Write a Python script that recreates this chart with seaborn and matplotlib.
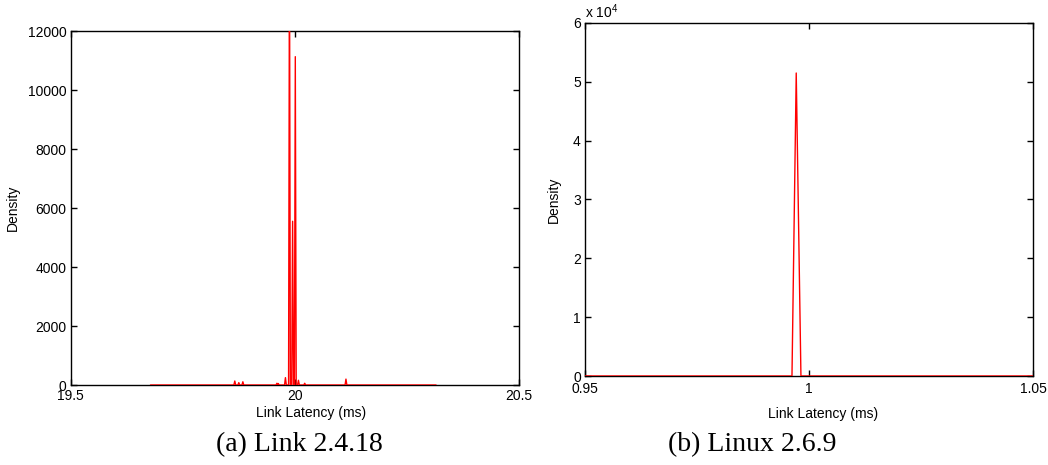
import numpy as np
import pandas as pd
import matplotlib
matplotlib.use('Agg')
import matplotlib.pyplot as plt
from matplotlib.ticker import FuncFormatter
import seaborn as sns

# ------------- DADOS
# (a) Link 2.4.18 - densidade da latencia (ms)
lat_a = [19.678, 19.864, 19.866, 19.868, 19.873, 19.875, 19.877, 19.882, 19.884, 19.886,
         19.958, 19.960, 19.962, 19.963, 19.965, 19.977, 19.979, 19.981,
         19.986, 19.988, 19.990, 19.993, 19.995, 19.997, 19.999, 20.001, 20.003,
         20.006, 20.008, 20.010, 20.020, 20.022, 20.024,
         20.112, 20.114, 20.116, 20.315]
dens_a = [0, 0, 135, 0, 0, 80, 0, 0, 110, 0,
          0, 60, 0, 50, 0, 0, 250, 0,
          0, 15000, 0, 0, 5550, 0, 0, 11130, 0,
          0, 160, 0, 0, 60, 0,
          0, 200, 0, 0]

# (b) Linux 2.6.9
lat_b = [0.95, 0.9962, 0.99715, 0.9982, 1.05]
dens_b = [0, 0, 51500, 0, 0]

xticks_a = [19.5, 20, 20.5]
yticks_a = [0, 2000, 4000, 6000, 8000, 10000, 12000]
xticks_b = [0.95, 1, 1.05]
yticks_b = [0, 1e4, 2e4, 3e4, 4e4, 5e4, 6e4]

captions = ['(a) Link 2.4.18', '(b) Linux 2.6.9']

df_a = pd.DataFrame({'lat': lat_a, 'dens': dens_a})
df_b = pd.DataFrame({'lat': lat_b, 'dens': dens_b})

# ------------- ESTILO
sns.set_style('white')
plt.rcParams['font.family'] = ['Liberation Sans', 'DejaVu Sans']
plt.rcParams['mathtext.default'] = 'regular'
plt.rcParams['font.size'] = 10
plt.rcParams['axes.linewidth'] = 1.0
plt.rcParams['text.color'] = 'black'
plt.rcParams['axes.labelcolor'] = 'black'

fig = plt.figure(figsize=(10.48, 4.65), dpi=100)
W, H = 1048, 465
ax1 = fig.add_axes([70.7 / W, 1 - 385 / H, 448.3 / W, 354 / H])
ax2 = fig.add_axes([585 / W, 1 - 376 / H, 448 / W, 353 / H])

sns.lineplot(data=df_a, x='lat', y='dens', ax=ax1, color='red', lw=1,
             estimator=None, sort=False, zorder=3)
sns.lineplot(data=df_b, x='lat', y='dens', ax=ax2, color='red', lw=1,
             estimator=None, sort=False, zorder=3)

ax1.set_xlim(19.5, 20.5)
ax1.set_ylim(0, 12000)
ax1.set_xticks(xticks_a)
ax1.set_yticks(yticks_a)
ax1.xaxis.set_major_formatter(FuncFormatter(lambda v, p: f'{v:g}'))

ax2.set_xlim(0.95, 1.05)
ax2.set_ylim(0, 6e4)
ax2.set_xticks(xticks_b)
ax2.set_yticks(yticks_b)
ax2.xaxis.set_major_formatter(FuncFormatter(lambda v, p: f'{v:g}'))
ax2.yaxis.set_major_formatter(FuncFormatter(lambda v, p: f'{v / 1e4:g}'))
ax2.text(0, 1.014, 'x 10$^4$', transform=ax2.transAxes, ha='left', va='baseline', fontsize=10)

for ax in (ax1, ax2):
    for s in ax.spines.values():
        s.set_visible(True)
        s.set_color('black')
        s.set_linewidth(1.0)
    ax.tick_params(direction='in', length=4, width=1, top=True, right=True,
                   bottom=True, left=True, labelsize=10, colors='black')
    ax.tick_params(axis='y', pad=3)
    ax.set_xlabel('Link Latency (ms)', fontsize=10)
    ax.set_ylabel('Density', fontsize=10)

ax1.tick_params(axis='x', pad=3)
ax2.tick_params(axis='x', pad=4)

ax1.xaxis.set_label_coords(0.536, -0.058)
ax1.yaxis.set_label_coords(-0.113, 0.5)
ax2.xaxis.set_label_coords(0.531, -0.088)
ax2.yaxis.set_label_coords(-0.054, 0.5)

fig.text(299 / W, 1 - 445 / H, captions[0], ha='center', va='center',
         fontsize=20, family=['Liberation Serif', 'DejaVu Serif'])
fig.text(752 / W, 1 - 445 / H, captions[1], ha='center', va='center',
         fontsize=20, family=['Liberation Serif', 'DejaVu Serif'])

fig.savefig('out.png', dpi=100, facecolor='white')
